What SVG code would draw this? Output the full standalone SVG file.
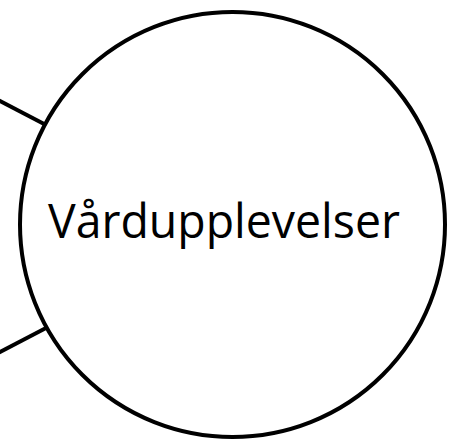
<svg xmlns="http://www.w3.org/2000/svg" width="449" height="443" viewBox="0 0 449 443">
<style>
.edge{stroke:#000;stroke-width:4;fill:none}
.node{fill:#fff;stroke:#000;stroke-width:4}
.lbl{font-family:"Open Sans","Noto Sans",sans-serif;font-size:48px;fill:#000}
</style>
<rect width="449" height="443" fill="#fff"/>
<g id="connectors">
<line class="edge" x1="-2" y1="100" x2="46" y2="125"/>
<line class="edge" x1="-2" y1="353" x2="46" y2="328"/>
</g>
<g id="node-vardupplevelser">
<circle class="node" cx="232.5" cy="224.5" r="212.5"/>
<text class="lbl" x="224" y="238" text-anchor="middle" textLength="352" lengthAdjust="spacingAndGlyphs">Vårdupplevelser</text>
</g>
</svg>
